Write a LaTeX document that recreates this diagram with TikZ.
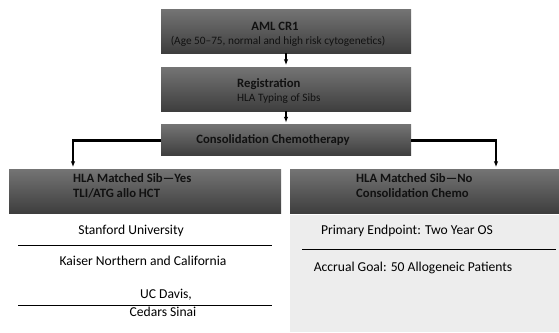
\documentclass[tikz,border=0pt]{standalone}
\usepackage{fontspec}
\setmainfont{Carlito}
\usetikzlibrary{arrows.meta}
\definecolor{boxtop}{HTML}{747474}
\definecolor{boxbot}{HTML}{3E3E3E}
\definecolor{panelgray}{HTML}{EDEDED}
\definecolor{ink}{HTML}{111111}
\tikzstyle{phase}=[draw=none,top color=boxtop,bottom color=boxbot,minimum width=250pt,inner sep=0pt]
\tikzstyle{boxtext}=[inner sep=0pt,text=ink]
\tikzstyle{title}=[font=\fontsize{12.7}{15}\selectfont\bfseries]
\tikzstyle{note}=[font=\fontsize{11.3}{14}\selectfont]
\tikzstyle{body}=[inner sep=0pt,text=black,font=\fontsize{13.6}{16}\selectfont]
\tikzstyle{flow}=[-{Latex[length=6pt,width=4.5pt]},line width=1.3pt,shorten >=1.5pt]
\tikzstyle{bar}=[line width=3pt]
\tikzstyle{rule}=[line width=0.9pt]

\begin{document}
\begin{tikzpicture}[x=1pt,y=-1pt]
                  \useasboundingbox (0,0) rectangle (559,332);

                  \node (aml) at (286,31) [phase,minimum height=44pt] {};
                  \node (amltitle) at (275,26) [boxtext,title] {AML CR1};
                  \node (amlnote) at (278,41) [boxtext,note] {(Age 50--75, normal and high risk cytogenetics)};

                  \node (reg) at (286,89) [phase,minimum height=44pt] {};
                  \node (regtitle) at (237,84) [boxtext,title,anchor=west] {Registration};
                  \node (regnote) at (237,99) [boxtext,note,anchor=west] {HLA Typing of Sibs};

                  \node (cons) at (286,140) [phase,minimum height=31pt] {};
                  \node (constitle) at (273,140) [boxtext,title] {Consolidation Chemotherapy};

                  \node (yes) at (145,191) [phase,minimum width=272pt,minimum height=44pt] {};
                  \node (yestitle) at (73,178) [boxtext,title,anchor=west] {HLA Matched Sib---Yes};
                  \node (yesnote) at (73,193) [boxtext,title,anchor=west] {TLI/ATG allo HCT};

                  \node (no) at (424.5,191) [phase,minimum width=269pt,minimum height=44pt] {};
                  \node (notitle) at (356,178) [boxtext,title,anchor=west] {HLA Matched Sib---No};
                  \node (nonote) at (356,193) [boxtext,title,anchor=west] {Consolidation Chemo};

                  \node (panel) at (424.5,273.5) [fill=panelgray,minimum width=269pt,minimum height=117pt,inner sep=0pt] {};

                  \node (stanford) at (131,231) [body] {Stanford University};
                  \node (kaiser) at (143,261) [body] {Kaiser Northern and California};
                  \node (ucdavis) at (166,295) [body] {UC Davis,};
                  \node (cedars) at (163,312) [body] {Cedars Sinai};
                  \draw [rule] (18,245) -- (272,245);
                  \draw [rule] (18,305) -- (272,305);

                  \node (endpoint) at (407,231) [body] {Primary Endpoint: Two Year OS};
                  \node (accrual) at (413,268) [body] {Accrual Goal: 50 Allogeneic Patients};
                  \draw [rule] (302,249) -- (556,249);

                  \coordinate (yesturn) at (73,140);
                  \coordinate (noturn) at (496,140);

                  \draw [flow] (aml) -- (reg);
                  \draw [flow] (reg) -- (cons);

                  \draw [bar] (cons.west) -- ([xshift=-0.65pt]yesturn);
                  \draw [bar] (cons.east) -- ([xshift=0.65pt]noturn);
                  \draw [flow] (yesturn) -- (yesturn |- yes.north);
                  \draw [flow] (noturn) -- (noturn |- no.north);
              \end{tikzpicture}
\end{document}
